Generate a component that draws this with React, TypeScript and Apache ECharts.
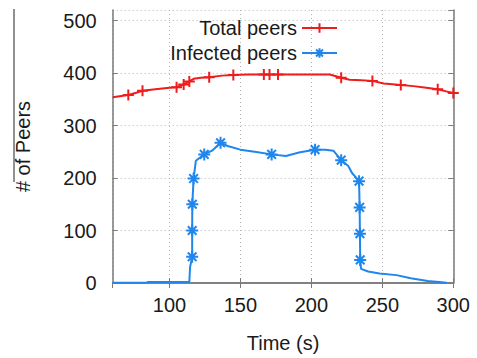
import React, { useEffect, useRef } from "react";
import * as echarts from "echarts";

// Total peers: [time, value, hasMarker]
const totalX = [60, 71, 76, 81, 90, 100, 105, 110, 114, 117, 122, 128, 137, 145, 155, 166.5, 170.5, 176.5, 190, 205, 213, 221, 227, 235, 243, 251, 263, 272, 281, 289, 295, 300];
const totalY = [354, 358, 362, 366, 369, 372, 373, 378, 384, 389, 391, 392, 395, 396, 397, 397, 397, 397, 397, 397, 397, 391, 387, 386, 385, 380, 377, 375, 372, 369, 365, 362];
const totalMark = [0, 1, 0, 1, 0, 0, 1, 1, 1, 0, 0, 1, 0, 1, 0, 1, 1, 1, 0, 0, 0, 1, 0, 0, 1, 0, 1, 0, 0, 1, 0, 1];

// Infected peers
const infX = [60, 84, 85, 114, 114.5, 116, 116, 116.1, 117, 118.6, 124.5, 130, 136, 141, 150, 160, 172, 182, 192, 202.6, 210, 215.5, 221, 226, 228.5, 233.6, 234, 234.2, 234.4, 235, 240, 248, 260, 270, 282, 290, 295.4];
const infY = [0.5, 0.5, 2, 2, 30, 50, 100, 150, 199, 233, 245, 252, 267, 261, 254, 250, 245, 242, 249, 254, 254, 252, 234, 223, 210, 194, 144, 94, 44, 27, 22, 18, 15, 9, 4, 2, 0.5];
const infMark = [0, 0, 0, 0, 0, 1, 1, 1, 1, 0, 1, 0, 1, 0, 0, 0, 1, 0, 0, 1, 0, 0, 1, 0, 0, 1, 1, 1, 1, 0, 0, 0, 0, 0, 0, 0, 0];

const seriesNames = ["Total peers", "Infected peers"];
const xName = "Time (s)";
const yName = "# of Peers";

const RED = "#ee1c1c";
const BLUE = "#1f86ee";
const FONT = "'Liberation Sans', Arial, sans-serif";
const TEXT = "#1a1a1a";
const BORDER = "#7a7a7a";

const PLUS = "path://M0,-5L0,5M-5,0L5,0";
const STAR = "path://M0,-5L0,5M-5,0L5,0M-3.6,-3.6L3.6,3.6M-3.6,3.6L3.6,-3.6";

function build(xs: number[], ys: number[], ms: number[]) {
  return xs.map((x, i) =>
    ms[i] ? { value: [x, ys[i]] } : { value: [x, ys[i]], symbol: "none" }
  );
}

export default function App() {
  const ref = useRef<HTMLDivElement>(null);
  useEffect(() => {
    document.body.style.margin = "0";
    const chart = echarts.init(ref.current!, null, { renderer: "svg" });
    const gridLine = { show: true, lineStyle: { color: "#b5b5b5", type: [1, 3], width: 1 } };
    const tickIn = { show: true, inside: true, length: 5, lineStyle: { color: BORDER, width: 1 } };
    const axisLine = { show: true, lineStyle: { color: BORDER, width: 1.5 } };
    chart.setOption({
      animation: false,
      backgroundColor: "#ffffff",
      grid: { left: 112.7, right: 23.7, top: 10, bottom: 73.7 },
      legend: {
        orient: "vertical",
        right: 134,
        top: 13,
        align: "right",
        itemWidth: 35,
        itemHeight: 12,
        itemGap: 5,
        textStyle: { fontFamily: FONT, fontSize: 20, color: TEXT },
        data: seriesNames,
      },
      xAxis: [
        {
          type: "value",
          min: 60,
          max: 300,
          splitNumber: 5,
          axisLine,
          axisTick: tickIn,
          splitLine: gridLine,
          axisLabel: {
            showMinLabel: false,
            margin: 12,
            fontFamily: FONT,
            fontSize: 20,
            color: TEXT,
          },
          name: xName,
          nameLocation: "middle",
          nameGap: 50,
          nameTextStyle: { fontFamily: FONT, fontSize: 20, color: TEXT },
        },
        {
          type: "value",
          position: "top",
          min: 60,
          max: 300,
          splitNumber: 5,
          axisLine,
          axisTick: tickIn,
          splitLine: { show: false },
          axisLabel: { show: false },
        },
      ],
      yAxis: [
        {
          type: "value",
          min: 0,
          max: 520,
          interval: 100,
          axisLine,
          axisTick: tickIn,
          splitLine: gridLine,
          axisLabel: {
            showMaxLabel: false,
            margin: 16,
            fontFamily: FONT,
            fontSize: 20,
            color: TEXT,
          },
          name: yName,
          nameLocation: "middle",
          nameGap: 80,
          nameTextStyle: { fontFamily: FONT, fontSize: 20, color: TEXT },
        },
        {
          type: "value",
          position: "right",
          min: 0,
          max: 520,
          interval: 100,
          axisLine,
          axisTick: tickIn,
          splitLine: { show: false },
          axisLabel: { show: false },
        },
      ],
      graphic: [
        {
          type: "line",
          shape: { x1: 14, y1: 9, x2: 14, y2: 182 },
          style: { stroke: "#222", lineWidth: 1 },
        },
      ],
      series: [
        {
          name: seriesNames[0],
          type: "line",
          data: build(totalX, totalY, totalMark),
          symbol: PLUS,
          symbolSize: 11,
          showAllSymbol: true,
          lineStyle: { color: RED, width: 2 },
          itemStyle: { color: RED, borderColor: RED, borderWidth: 2 },
          z: 3,
        },
        {
          name: seriesNames[1],
          type: "line",
          data: build(infX, infY, infMark),
          symbol: STAR,
          symbolSize: 12,
          showAllSymbol: true,
          lineStyle: { color: BLUE, width: 2 },
          itemStyle: { color: BLUE, borderColor: BLUE, borderWidth: 2 },
          z: 4,
        },
      ],
    });
    return () => chart.dispose();
  }, []);
  return (
    <div
      ref={ref}
      style={{ position: "absolute", left: 0, top: 0, width: 477, height: 358 }}
    />
  );
}
